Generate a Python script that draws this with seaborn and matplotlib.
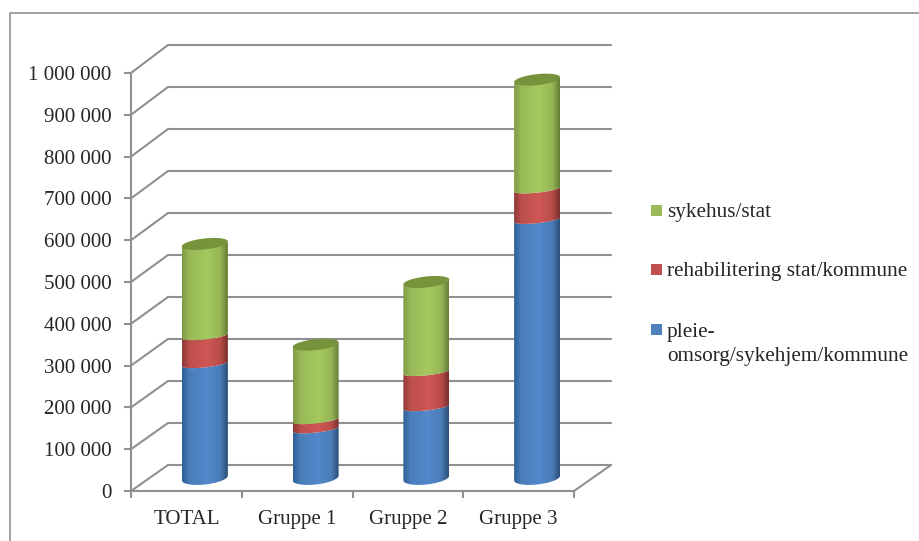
import numpy as np
import seaborn as sns
import matplotlib.pyplot as plt
from matplotlib.colors import LinearSegmentedColormap
from matplotlib.patches import ConnectionPatch, PathPatch, Rectangle
from matplotlib.path import Path

categories = ['TOTAL', 'Gruppe 1', 'Gruppe 2', 'Gruppe 3']
pleie = [273000, 117000, 170000, 618000]
rehab = [67000, 22000, 84000, 73000]
sykehus = [220000, 180000, 215000, 262000]
y_ticks = [0, 100000, 200000, 300000, 400000, 500000, 600000, 700000, 800000, 900000, 1000000]

legend_labels = ['sykehus/stat', 'rehabilitering stat/kommune', 'pleie-\nomsorg/sykehjem/kommune']
legend_colors = ['#9bbb59', '#c0504d', '#4f81bd']

W, H = 920, 541
GRID = '#909090'
TEXT = '#262626'
Y_MAX = 1000000

# colours across a cylinder, left edge -> highlight -> right edge
stops = [0, 0.16, 0.55, 0.84, 1]
ramps = {
    'pleie': ['#2f6097', '#4a7dba', '#5289cb', '#4a7cb6', '#2c5079'],
    'rehab': ['#8f3a38', '#bd4f4c', '#cf5755', '#b84d4a', '#7c2f2d'],
    'sykehus': ['#7f9c45', '#99ba58', '#a4c95e', '#96b656', '#657f38'],
}
cap_color = '#77933c'

# size of one pixel in the units of the bars axes
px_x = 4 / 443
px_y = Y_MAX / 418
half_w = 23
tilt = 2.4
foot_b = 6.5
inner_b = 3.5
lid_b = 5.5


def axes_px(fig, left, right, top, bottom):
    return fig.add_axes([left / W, 1 - bottom / H, (right - left) / W, (bottom - top) / H])


def front_arc(cx, level, b_px):
    t = np.linspace(np.pi, 2 * np.pi, 40)
    return cx + half_w * np.cos(t) * px_x, level + (b_px * np.sin(t) + tilt * np.cos(t)) * px_y


def cylinder_path(bar):
    # front arcs of the tilted end ellipses, walked round as one outline
    cx = bar.get_x() + bar.get_width() / 2
    low_b = foot_b if bar.get_y() == 0 else inner_b
    x_low, y_low = front_arc(cx, bar.get_y(), low_b)
    x_high, y_high = front_arc(cx, bar.get_y() + bar.get_height(), inner_b)
    return Path(np.c_[np.r_[x_low, x_high[::-1]], np.r_[y_low, y_high[::-1]]])


sns.set_style('white')
plt.rcParams['font.family'] = ['Liberation Serif', 'DejaVu Serif']

fig = plt.figure(figsize=(W / 100, H / 100), dpi=100)

# outer chart frame
fig.add_artist(plt.Line2D([10 / W, 10 / W, 1], [0, 1 - 13 / H, 1 - 13 / H], color=GRID, lw=1.2))

# back wall
wall = axes_px(fig, 168, 611, 45, 465)
wall.set_xlim(-0.5, 3.5)
wall.set_ylim(0, Y_MAX)
wall.set_yticks(y_ticks)
wall.set_xticks([])
wall.set_yticklabels([])
wall.tick_params(length=0)
wall.grid(axis='y', color=GRID, lw=1.5, clip_on=False)
sns.despine(ax=wall, left=True, bottom=True)

# front axes with ticks and labels
ax = axes_px(fig, 131, 574, 73, 491)
ax.patch.set_alpha(0)
ax.set_xlim(-0.5, 3.5)
ax.set_ylim(0, Y_MAX)
ax.set_yticks(y_ticks)
ax.set_yticklabels(['{:,}'.format(v).replace(',', ' ') for v in y_ticks], fontsize=15.1, color=TEXT)
ax.set_xticks([-0.5, 0.5, 1.5, 2.5, 3.5])
ax.set_xticklabels([])
ax.set_xticks(range(4), categories, minor=True, fontsize=15, color=TEXT)
ax.tick_params(axis='x', which='minor', length=0, pad=14)
ax.tick_params(axis='x', which='major', length=5, width=1.5, color=GRID, bottom=True)
ax.tick_params(axis='y', which='major', length=5, width=1.5, color=GRID, pad=9, left=True)
for side in ['top', 'right']:
    ax.spines[side].set_visible(False)
for side in ['left', 'bottom']:
    ax.spines[side].set_color(GRID)
    ax.spines[side].set_linewidth(1.5)

# side wall and floor edges
for v in y_ticks:
    fig.add_artist(ConnectionPatch((-0.5, v), (-0.5, v), 'data', 'data', axesA=ax, axesB=wall,
                                   color=GRID, lw=1.5, shrinkA=0, shrinkB=0))
fig.add_artist(ConnectionPatch((3.5, 0), (3.5, 0), 'data', 'data', axesA=ax, axesB=wall,
                               color=GRID, lw=1.5, shrinkA=0, shrinkB=0))

# bars stand half way into the floor, axes reach lower so the rounded feet fit
foot_room = 15
bars = axes_px(fig, 149.5, 592.5, 60, 478 + foot_room)
bars.set_zorder(5)
bars.patch.set_alpha(0)

bottoms = np.zeros(4)
for name, values in [('pleie', pleie), ('rehab', rehab), ('sykehus', sykehus)]:
    n_before = len(bars.patches)
    sns.barplot(x=categories, y=values, bottom=bottoms, width=0.415, color=ramps[name][1], ax=bars)
    bottoms = bottoms + np.array(values)
    cmap = LinearSegmentedColormap.from_list(name, list(zip(stops, ramps[name])))
    for bar in bars.patches[n_before:]:
        bar.set_visible(False)
        clip = PathPatch(cylinder_path(bar), transform=bars.transData, fc='none', ec='none')
        bars.add_patch(clip)
        img = bars.imshow(np.linspace(0, 1, 64)[None, :], cmap=cmap, aspect='auto', zorder=3,
                          extent=[bar.get_x(), bar.get_x() + bar.get_width(),
                                  bar.get_y() - 10 * px_y, bar.get_y() + bar.get_height() + 10 * px_y])
        img.set_clip_path(clip)
        if name == 'sykehus':
            # lid on top of the cylinder
            cx = bar.get_x() + bar.get_width() / 2
            t = np.linspace(0, 2 * np.pi, 80)
            top = bar.get_y() + bar.get_height()
            bars.fill(cx + half_w * np.cos(t) * px_x, top + (lid_b * np.sin(t) + tilt * np.cos(t)) * px_y,
                      color=cap_color, lw=0, zorder=4)
bars.set_xlim(-0.5, 3.5)
bars.set_ylim(-foot_room * px_y, Y_MAX)
bars.axis('off')

# legend, baseline of multi-line text is that of its last line
marker_y = [210.5, 269.5, 329.5]
baseline_y = [216.7, 276, 361]
for m_y, b_y, text, color in zip(marker_y, baseline_y, legend_labels, legend_colors):
    fig.add_artist(Rectangle((651 / W, 1 - (m_y + 5.5) / H), 11 / W, 11 / H, transform=fig.transFigure,
                             fc=color, ec='none'))
    fig.text(667 / W, 1 - b_y / H, text, fontsize=15.3, color=TEXT, va='baseline', linespacing=1.33)

plt.savefig('out.png', dpi=100)
